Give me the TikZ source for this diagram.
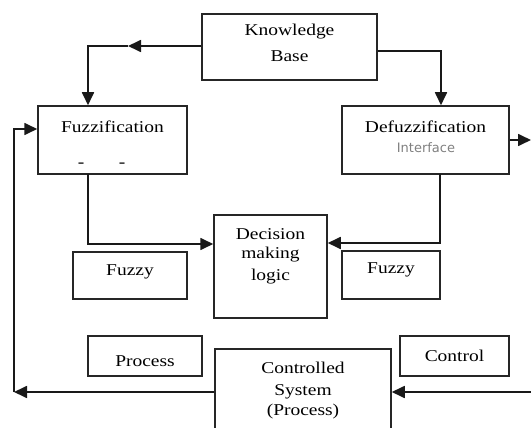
\documentclass[tikz,border=0pt]{standalone}
\usepackage{fontspec}
\setmainfont[FakeStretch=1.18]{Liberation Serif}
\newfontfamily\ifacefont{DejaVu Sans}
\usetikzlibrary{arrows.meta}
\definecolor{ifacegray}{gray}{0.5}
\begin{document}
\begin{tikzpicture}[x=1pt,y=-1pt,
  blk/.style={draw=black!85,line width=1.5pt,inner sep=0pt},
  txt/.style={inner sep=0pt,font=\fontsize{16.5}{19}\selectfont},
  conn/.style={line width=1.7pt,draw=black!90},
  arr/.style={conn,-{Triangle[length=13pt,width=12pt]}}]
\useasboundingbox (0,0) rectangle (531,428);
% boxes
\node[blk,minimum width=175pt,minimum height=66pt] (kb) at (289.5,47) {};
\node[blk,minimum width=149pt,minimum height=68pt] (fuzz) at (112.5,140) {};
\node[blk,minimum width=167pt,minimum height=68pt] (defuzz) at (425.5,140) {};
\node[blk,minimum width=113pt,minimum height=103pt] (dec) at (270.5,266.5) {};
\node[blk,minimum width=114pt,minimum height=47pt] (fuzzyl) at (130,275.5) {};
\node[blk,minimum width=98pt,minimum height=48pt] (fuzzyr) at (391,275) {};
\node[blk,minimum width=114pt,minimum height=40pt] (proc) at (145,356) {};
\node[blk,minimum width=109pt,minimum height=40pt] (ctrl) at (454.5,356) {};
\node[blk,minimum width=176pt,minimum height=85pt] (cs) at (303,391.5) {};
% texts
\node[txt] (t1) at (289.5,32) {Knowledge};
\node[txt] (t2) at (289.5,56) {Base};
\node[txt] (t3) at (112.5,127) {Fuzzification};
\node[txt] (d1) at (81,165) {-};
\node[txt] (d2) at (122,165) {-};
\node[txt] (t4) at (425.5,127) {Defuzzification};
\node[inner sep=0pt,text=ifacegray,font=\ifacefont\fontsize{13}{15}\selectfont] (t5) at (426,148) {Interface};
\node[txt] (t6) at (270.5,234) {Decision};
\node[txt] (t7) at (270.5,255) {making};
\node[txt] (t8) at (270.5,277) {logic};
\node[txt] (t9) at (130,272) {Fuzzy};
\node[txt] (t10) at (391,270) {Fuzzy};
\node[txt] (t11) at (145,361) {Process};
\node[txt] (t12) at (454.5,356) {Control};
\node[txt] (t13) at (303,368) {Controlled};
\node[txt] (t14) at (303,392) {System};
\node[txt] (t15) at (303,412) {(Process)};
% coordinates
\coordinate (kbl) at (kb.west |- 0,46);
\coordinate (mid) at (128,46);
\coordinate (c1) at (88,46);
\coordinate (kbr) at (kb.east |- 0,51);
\coordinate (c2) at (441,51);
\coordinate (fb) at (88,174);
\coordinate (c3) at (88,244);
\coordinate (db) at (440,174);
\coordinate (c4) at (440,243);
\coordinate (csl) at (cs.west |- 0,392);
\coordinate (c5) at (14,392);
\coordinate (c6) at (14,129);
\coordinate (csr) at (cs.east |- 0,392);
\coordinate (rin) at (531,392);
\coordinate (dr) at (defuzz.east |- 0,140);
\coordinate (rout) at (531,140);
% connectors
\draw[arr] (kbl) -- (mid);
\draw[arr] (mid) -- (c1) -- (fuzz.north -| c1);
\draw[arr] (kbr) -- (c2) -- (defuzz.north -| c2);
\draw[arr] (fb) -- (c3) -- (dec.west |- c3);
\draw[arr] (db) -- (c4) -- (dec.east |- c4);
\draw[arr] (csl) -- (c5);
\draw[arr] (c5) -- (c6) -- (fuzz.west |- c6);
\draw[arr] (rin) -- (csr);
\draw[arr] (dr) -- (rout);
\end{tikzpicture}
\end{document}
